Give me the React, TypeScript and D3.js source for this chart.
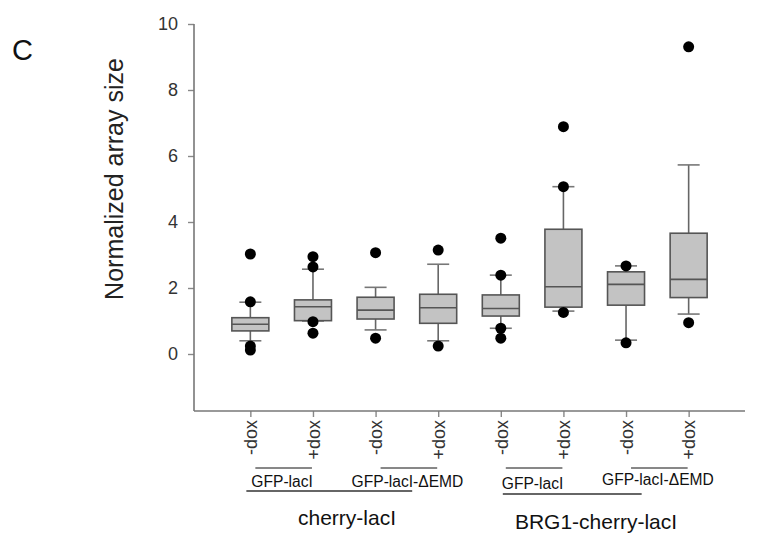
import React, { useEffect, useRef } from 'react';
import * as d3 from 'd3';

const categories = ['-dox', '+dox', '-dox', '+dox', '-dox', '+dox', '-dox', '+dox'];
const q1 = [0.70, 1.01, 1.06, 0.93, 1.15, 1.42, 1.48, 1.71];
const median = [0.90, 1.43, 1.33, 1.40, 1.38, 2.04, 2.11, 2.26];
const q3 = [1.10, 1.64, 1.72, 1.81, 1.79, 3.78, 2.49, 3.66];
const whiskerLow = [0.40, 1.00, 0.73, 0.40, 0.78, 1.30, 0.42, 1.21];
const whiskerHigh = [1.57, 2.57, 2.02, 2.72, 2.39, 5.07, 2.67, 5.73];
const outliers = [
    [3.03, 1.58, 0.24, 0.12],
    [2.95, 2.64, 0.98, 0.63],
    [3.07, 0.48],
    [3.15, 0.24],
    [3.51, 2.39, 0.78, 0.48],
    [6.89, 5.07, 1.26],
    [2.67, 0.34],
    [9.31, 0.95],
];
const yTicks = [0, 2, 4, 6, 8, 10];
// pairs of category indices joined by a short line, with label
const pairLabels = [
    { from: 0, to: 1, text: 'GFP-lacI' },
    { from: 2, to: 3, text: 'GFP-lacI-\u0394EMD' },
    { from: 4, to: 5, text: 'GFP-lacI' },
    { from: 6, to: 7, text: 'GFP-lacI-\u0394EMD' },
];
const groupLabels = [
    { from: 0, to: 3, text: 'cherry-lacI' },
    { from: 4, to: 7, text: 'BRG1-cherry-lacI' },
];

const FONT = 'Arial, "Liberation Sans", Helvetica, sans-serif';

function drawChart(svgRoot: SVGSVGElement) {
    const width = 760;
    const height = 542;
    const svg = d3.select(svgRoot);
    svg.selectChildren().remove();
    svg.attr('viewBox', [0, 0, width, height] as any)
        .attr('width', width)
        .attr('height', height);

    const axisX = 194;
    const axisY = 411;
    const right = 745;

    const idx = d3.range(categories.length).map(String);
    const x = d3.scalePoint<string>().domain(idx).range([axisX, right]).padding(0.9);
    const y = d3.scaleLinear().domain([0, 10]).range([354, 24]);

    const g = svg.append('g').attr('font-family', FONT);

    // panel letter
    g.append('text')
        .attr('x', 12).attr('y', 60)
        .attr('font-size', 29)
        .attr('fill', '#111')
        .text('C');

    // y axis
    const yAxis = g.append('g')
        .attr('transform', `translate(${axisX},0)`)
        .call(d3.axisLeft(y).tickValues(yTicks).tickSize(6).tickPadding(10).tickSizeOuter(0));
    yAxis.select('.domain').remove();
    yAxis.append('line')
        .attr('x1', 0).attr('x2', 0)
        .attr('y1', y(10)).attr('y2', axisY)
        .attr('stroke', '#777').attr('stroke-width', 1.6);
    yAxis.selectAll('.tick line').attr('stroke', '#888').attr('stroke-width', 1.4);
    yAxis.selectAll('.tick text')
        .attr('font-size', 18).attr('fill', '#333').attr('font-family', FONT);

    // y label
    g.append('text')
        .attr('transform', `translate(123,${179}) rotate(-90)`)
        .attr('text-anchor', 'middle')
        .attr('font-size', 25)
        .attr('fill', '#222')
        .text('Normalized array size');

    // x axis
    const xAxis = g.append('g')
        .attr('transform', `translate(0,${axisY})`)
        .call(d3.axisBottom(x).tickSize(6).tickSizeOuter(0).tickFormat((d) => categories[+d]));
    xAxis.select('.domain').remove();
    xAxis.append('line')
        .attr('x1', axisX).attr('x2', right)
        .attr('y1', 0).attr('y2', 0)
        .attr('stroke', '#777').attr('stroke-width', 1.6);
    xAxis.selectAll('.tick line').attr('stroke', '#888').attr('stroke-width', 1.4);
    xAxis.selectAll('.tick text')
        .attr('font-size', 18).attr('fill', '#333').attr('font-family', FONT)
        .attr('text-anchor', 'end')
        .attr('transform', 'rotate(-90)')
        .attr('x', -9).attr('y', 0).attr('dy', '0.35em');

    // boxes
    const boxW = 37;
    const capW = 22;
    idx.forEach((k, i) => {
        const cx = x(k)!;
        const bg = g.append('g');
        // whiskers
        bg.append('line')
            .attr('x1', cx).attr('x2', cx)
            .attr('y1', y(q3[i])).attr('y2', y(whiskerHigh[i]))
            .attr('stroke', '#666').attr('stroke-width', 1.6);
        bg.append('line')
            .attr('x1', cx).attr('x2', cx)
            .attr('y1', y(q1[i])).attr('y2', y(whiskerLow[i]))
            .attr('stroke', '#666').attr('stroke-width', 1.6);
        [whiskerHigh[i], whiskerLow[i]].forEach((v) => {
            bg.append('line')
                .attr('x1', cx - capW / 2).attr('x2', cx + capW / 2)
                .attr('y1', y(v)).attr('y2', y(v))
                .attr('stroke', '#777').attr('stroke-width', 1.6);
        });
        bg.append('rect')
            .attr('x', cx - boxW / 2).attr('width', boxW)
            .attr('y', y(q3[i])).attr('height', y(q1[i]) - y(q3[i]))
            .attr('fill', '#c3c3c3')
            .attr('stroke', '#555').attr('stroke-width', 1.6);
        bg.append('line')
            .attr('x1', cx - boxW / 2).attr('x2', cx + boxW / 2)
            .attr('y1', y(median[i])).attr('y2', y(median[i]))
            .attr('stroke', '#555').attr('stroke-width', 1.6);
        bg.selectAll('circle')
            .data(outliers[i])
            .enter().append('circle')
            .attr('cx', cx).attr('cy', (d) => y(d))
            .attr('r', 5.5)
            .attr('fill', '#000');
    });

    // pair labels
    pairLabels.forEach((p, j) => {
        const x1 = x(String(p.from))! + 5;
        const x2 = x(String(p.to))! - 1;
        g.append('line')
            .attr('x1', x1).attr('x2', x2)
            .attr('y1', 468).attr('y2', 468)
            .attr('stroke', '#111').attr('stroke-width', 1);
        const isDelta = p.text.length > 10;
        g.append('text')
            .attr('x', isDelta ? x1 - 29 : x1 - 4)
            .attr('y', j === 2 ? 489 : (j === 3 ? 485 : 487))
            .attr('font-size', 15.6)
            .attr('fill', '#111')
            .text(p.text);
    });

    // group labels
    groupLabels.forEach((gl, j) => {
        const x1 = x(String(gl.from))! - 4;
        const x2 = x(String(gl.to))! - 26;
        g.append('line')
            .attr('x1', j === 0 ? x1 : x1 + 6).attr('x2', j === 0 ? x2 : x2 - 21)
            .attr('y1', j === 0 ? 491 : 494).attr('y2', j === 0 ? 491 : 494)
            .attr('stroke', '#666').attr('stroke-width', 1.8);
        g.append('text')
            .attr('x', j === 0 ? 347 : 596)
            .attr('y', j === 0 ? 525 : 529)
            .attr('text-anchor', 'middle')
            .attr('font-size', 21)
            .attr('fill', '#111')
            .text(gl.text);
    });
}

export default function App() {
    const svgRef = useRef<SVGSVGElement>(null);
    useEffect(() => {
        svgRef.current && drawChart(svgRef.current);
    }, []);
    return (
        <div style={{ position: 'absolute', left: 0, top: 0, width: 760, height: 542, background: '#fff' }}>
            <svg ref={svgRef} style={{ display: 'block' }} />
        </div>
    );
}
